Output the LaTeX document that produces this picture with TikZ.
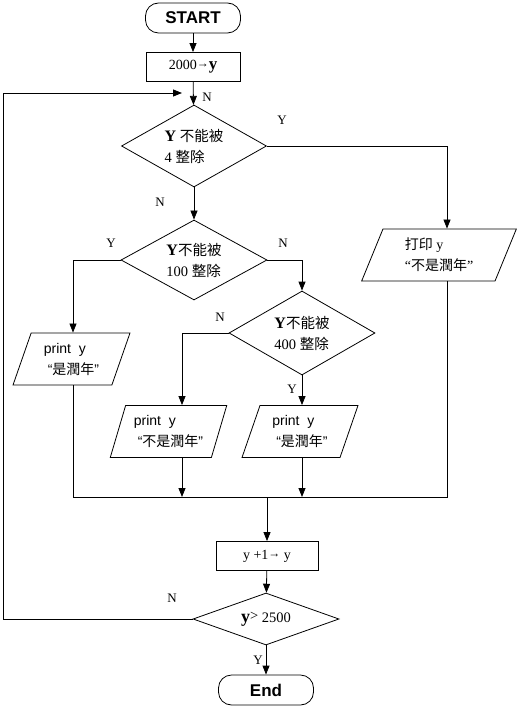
\documentclass[tikz,border=0pt]{standalone}
\usepackage{fontspec}
\setmainfont{Liberation Serif}
\setsansfont{Liberation Sans}
\newfontfamily\cjk{Noto Sans CJK SC}
\usetikzlibrary{shapes.geometric,arrows.meta}
\begin{document}
\begin{tikzpicture}[x=1pt,y=-1pt, line width=0.8pt,
  arr/.style={-{Triangle[length=9pt,width=7pt]}},
  term/.style={draw, rounded corners=13pt, minimum width=95pt, minimum height=30pt, inner sep=0pt, font=\sffamily\bfseries\fontsize{17}{20}\selectfont},
  procbox/.style={draw, minimum height=29pt, inner sep=0pt, font=\fontsize{14}{16}\selectfont},
  decision/.style={draw, diamond, inner sep=0pt, font=\fontsize{14.5}{21}\selectfont, align=left},
  io/.style={draw, trapezium, trapezium left angle=69, trapezium right angle=111, trapezium stretches=true, minimum height=52pt, inner sep=0pt, align=left, font=\sffamily\fontsize{14}{21}\selectfont},
  lbl/.style={font=\fontsize{13}{14}\selectfont, inner sep=0pt}]
\useasboundingbox (0,0) rectangle (522,708);

% nodes
\node[term] (start) at (193,18) {START};
\node[procbox, minimum width=94pt] (init) at (193,67) {2000{\fontsize{12}{12}\selectfont\raisebox{2pt}{→}}\textbf{\fontsize{17}{17}\selectfont y}};
\node[decision, aspect=1.8, minimum width=145pt, minimum height=82pt] (d1) at (194,146) {\textbf{\fontsize{16}{16}\selectfont Y} {\cjk 不能被}\\4 {\cjk 整除}};
\node[decision, aspect=1.8, minimum width=146pt, minimum height=80pt] (d2) at (194,260) {\textbf{\fontsize{16}{16}\selectfont Y}{\cjk 不能被}\\100 {\cjk 整除}};
\node[decision, aspect=1.8, minimum width=146pt, minimum height=84pt] (d3) at (302,333) {\textbf{\fontsize{16}{16}\selectfont Y}{\cjk 不能被}\\400 {\cjk 整除}};
\node[io, minimum width=117pt] (p1) at (71.5,359) {print\ \ y\\ \ “{\cjk 是潤年}”};
\node[io, minimum width=117pt] (p2) at (168.5,431.5) {print\ \ y\\ \ “{\cjk 不是潤年}”};
\node[io, minimum width=116pt] (p3) at (300,431.5) {print\ \ y\\ \ “{\cjk 是潤年}”};
\node[io, minimum width=156pt, font=\fontsize{14}{21}\selectfont] (p4) at (439,255) {{\cjk 打印} y\\“{\cjk 不是潤年}”};
\node[procbox, minimum width=102pt] (upd) at (267,556) {y +1{\fontsize{12}{12}\selectfont\raisebox{2pt}{→}} y};
\node[decision, aspect=2.8, minimum width=146pt, minimum height=52pt] (d4) at (266,619) {\textbf{\fontsize{18}{18}\selectfont y}\raisebox{2pt}{>} 2500};
\node[term] (stop) at (266,690) {End};

% merge / loop coordinates
\coordinate (m1) at (73,497);
\coordinate (m2) at (182,497);
\coordinate (m3) at (302,497);
\coordinate (m4) at (447,497);
\coordinate (mc) at (267,497);
\coordinate (lx) at (3,93);
\coordinate (loopin) at (182,93);

% connectors
\draw[arr] (start) -- (init);
\draw[arr] (init) -- (d1);
\draw[arr] (d1) -- (d2);
\draw[arr] (d1.east) -| (m4 |- p4.north);
\draw[arr] (d2.west) -| (m1 |- p1.north);
\draw[arr] (d2.east) -| (d3.north);
\draw[arr] (d3.west) -| (m2 |- p2.north);
\draw[arr] (d3) -- (d3 |- p3.north);
\draw (m1 |- p1.south) -- (m1) -- (m4) -- (m4 |- p4.south);
\draw[arr] (m2 |- p2.south) -- (m2);
\draw[arr] (m3 |- p3.south) -- (m3);
\draw[arr] (mc) -- (upd);
\draw[arr] (upd) -- (d4);
\draw[arr] (d4) -- (stop);
\draw[arr] (d4.west) -| (lx) -- (loopin);

% labels
\node[lbl] (lN1) at (207,97) {N};
\node[lbl] (lY1) at (282,120) {Y};
\node[lbl] (lN2) at (160,202) {N};
\node[lbl] (lY2) at (111,243) {Y};
\node[lbl] (lN3) at (283,243) {N};
\node[lbl] (lN4) at (220,317) {N};
\node[lbl] (lY4) at (292,389) {Y};
\node[lbl] (lN5) at (172,598) {N};
\node[lbl] (lY5) at (258,660) {Y};
\end{tikzpicture}
\end{document}
